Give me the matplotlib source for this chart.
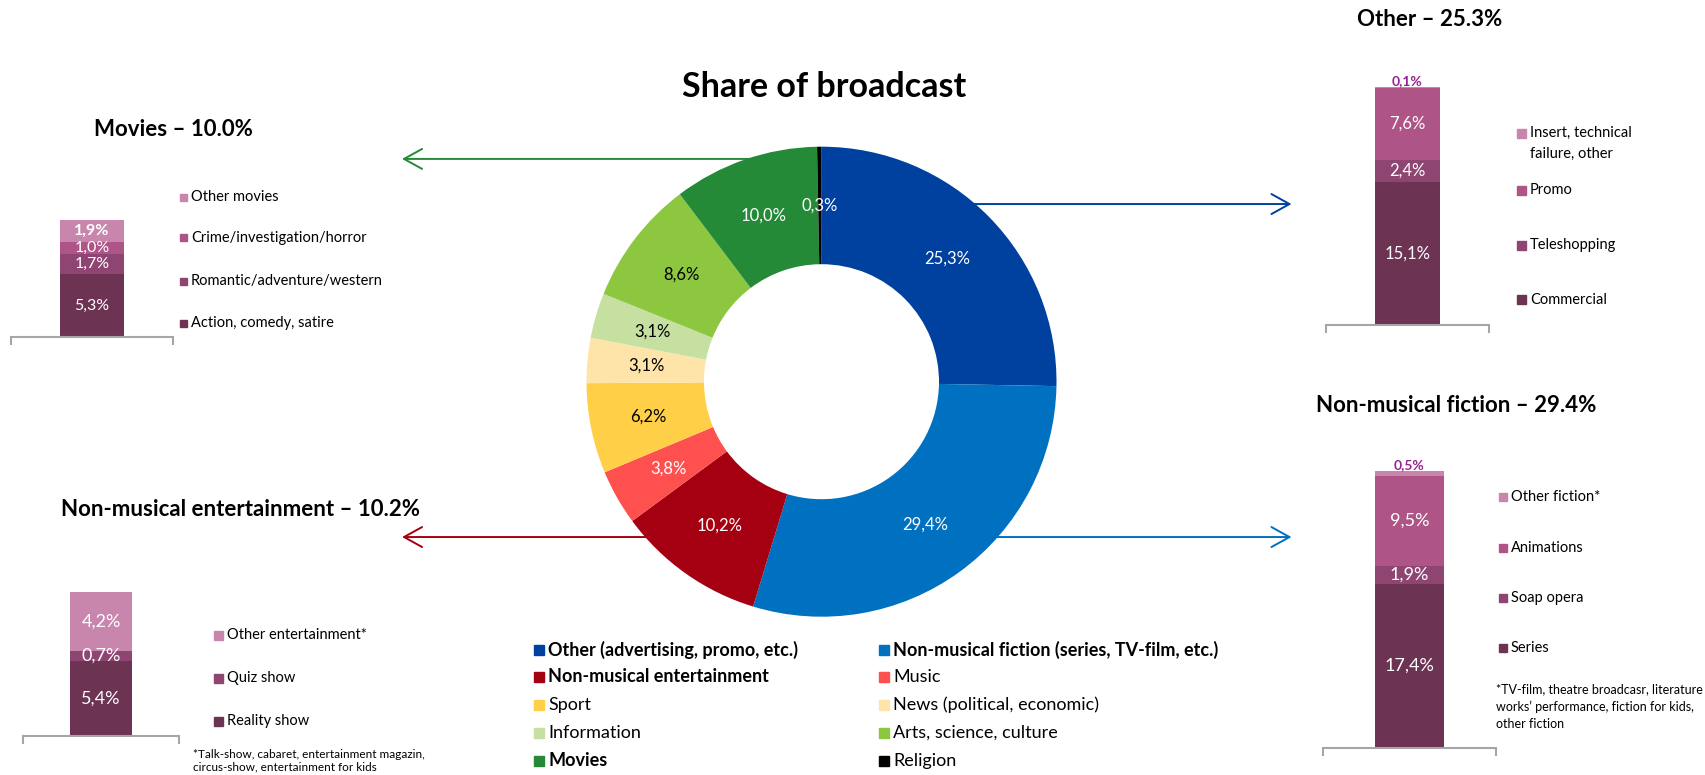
import matplotlib
matplotlib.use("Agg")
import matplotlib.pyplot as plt
from matplotlib.patches import Rectangle

plt.rcParams['font.family'] = ['Lato', 'DejaVu Sans']

W, H = 1705, 775

# main donut data
categories = ["Other (advertising, promo, etc.)", "Non-musical fiction (series, TV-film, etc.)",
              "Non-musical entertainment", "Music", "Sport", "News (political, economic)",
              "Information", "Arts, science, culture", "Movies", "Religion"]
shares = [25.3, 29.4, 10.2, 3.8, 6.2, 3.1, 3.1, 8.6, 10.0, 0.3]
colors = ["#00409f", "#0070c0", "#a50012", "#ff5050", "#ffd047", "#ffe4aa",
          "#c5e0a0", "#8dc63f", "#248a38", "#000000"]
bold_cats = ["Other (advertising, promo, etc.)", "Non-musical fiction (series, TV-film, etc.)",
             "Non-musical entertainment", "Movies"]
dark_text_cats = ["Sport", "News (political, economic)", "Information", "Arts, science, culture"]

# breakdowns (bottom -> top)
movies_labels = ["Action, comedy, satire", "Romantic/adventure/western",
                 "Crime/investigation/horror", "Other movies"]
movies_values = [5.3, 1.7, 1.0, 1.9]
ent_labels = ["Reality show", "Quiz show", "Other entertainment*"]
ent_values = [5.4, 0.7, 4.2]
other_labels = ["Commercial", "Teleshopping", "Promo", "Insert, technical\nfailure, other"]
other_values = [15.1, 2.4, 7.6, 0.1]
fiction_labels = ["Series", "Soap opera", "Animations", "Other fiction*"]
fiction_values = [17.4, 1.9, 9.5, 0.5]

purples = ["#6c3353", "#8f4572", "#ae5486", "#c986ad"]
tiny_color = "#962193"

fig = plt.figure(figsize=(W / 100, H / 100), dpi=100)


def P(x, y):
    return x / W, 1 - y / H


def box(left, top, right, bottom):
    return [left / W, 1 - bottom / H, (right - left) / W, (bottom - top) / H]


def fmt(v):
    return f"{v:.1f}%".replace('.', ',')


def key(x, y, color, label, size=10.5, sq=8, weight='normal', pitch=21):
    fig.patches.append(Rectangle(P(x, y + sq / 2), sq / W, sq / H, color=color,
                                 transform=fig.transFigure, figure=fig))
    # multi-line labels: one text per line, marker next to the first line
    for j, line in enumerate(label.split('\n')):
        fig.text(*P(x + sq + 4, y + j * pitch), line, fontsize=size, weight=weight,
                 va='center', ha='left')


# ---- donut ----
cx, cy, R = 821.5, 381.7, 235
ax = fig.add_axes(box(cx - R, cy - R, cx + R, cy + R))
wedges, texts, autotexts = ax.pie(shares, colors=colors, startangle=90, counterclock=False,
                                  radius=1, pctdistance=0.75, autopct=fmt,
                                  wedgeprops=dict(width=0.5, linewidth=0),
                                  textprops=dict(fontsize=12, color='white'))
for cat, t in zip(categories, autotexts):
    if cat in dark_text_cats:
        t.set_color('black')
ax.set_xlim(-1, 1)
ax.set_ylim(-1, 1)

# arrows to the breakdowns
arrows = [(0.948, -0.2, -1.785, colors[8]),
          (0.756, 0.3, 2.0, colors[0]),
          (-0.661, -0.3, -1.785, colors[2]),
          (-0.661, 0.3, 2.0, colors[1])]
for y, x0, x1, c in arrows:
    ann = ax.annotate("", xy=(x1, y), xytext=(x0, y), annotation_clip=False, zorder=0,
                      arrowprops=dict(arrowstyle='->, head_length=0.65, head_width=0.36',
                                      mutation_scale=20, color=c, lw=1.4,
                                      shrinkA=0, shrinkB=0))
    ann.arrow_patch.set_clip_on(False)

fig.text(*P(824, 87), "Share of broadcast", fontsize=24.5, weight='bold', ha='center', va='center')

# main legend, filled row by row
rows = [650, 677, 705, 733, 761]
for i, (cat, c) in enumerate(zip(categories, colors)):
    col, row = i % 2, i // 2
    x = 534 if col == 0 else 879
    key(x, rows[row], c, cat, size=13, sq=10,
        weight='bold' if cat in bold_cats else 'normal')


# ---- breakdown bars ----
def stacked(rect, values, cols, label_size=11, bold_top=False):
    left, top, right, bottom = rect
    a = fig.add_axes(box(left, top, right, bottom))
    total = sum(values)
    base = 0
    for i, (v, c) in enumerate(zip(values, cols)):
        a.bar(0, v, width=0.4, bottom=base, color=c, linewidth=0)
        last = i == len(values) - 1
        if v < 0.6 and last:
            a.text(0, base + v, fmt(v), ha='center', va='bottom', color=tiny_color,
                   fontsize=10, weight='bold')
        else:
            a.text(0, base + v / 2, fmt(v), ha='center', va='center', color='white',
                   fontsize=label_size, weight='bold' if (bold_top and last) else 'normal')
        base += v
    a.set_xlim(-0.5, 0.5)
    a.set_ylim(0, total)
    for s in ['top', 'left', 'right']:
        a.spines[s].set_visible(False)
    a.spines['bottom'].set_color('#a6a6a6')
    a.spines['bottom'].set_linewidth(1.5)
    a.set_xticks([-0.5, 0.5])
    a.set_xticklabels([])
    a.set_yticks([])
    a.tick_params(axis='x', length=6, width=1.5, color='#a6a6a6')
    return a


# Movies
fig.text(*P(173, 130), "Movies \u2013 10.0%", fontsize=16, weight='bold', ha='center', va='center')
stacked((11, 220, 173, 337), movies_values, purples, label_size=11.5, bold_top=True)
for lab, c, y in zip(movies_labels, purples, [323, 281, 238, 197]):
    key(180, y, c, lab, size=10.5, sq=7)

# Non-musical entertainment
ent_cols = [purples[0], purples[1], purples[3]]
fig.text(*P(240, 510), "Non-musical entertainment \u2013 10.2%", fontsize=16, weight='bold',
         ha='center', va='center')
stacked((23, 592, 179, 736), ent_values, ent_cols, label_size=13)
for lab, c, y in zip(ent_labels, ent_cols, [721, 678, 635]):
    key(214, y, c, lab, size=10.5, sq=9)
fig.text(*P(193, 749), "*Talk-show, cabaret, entertainment magazin,\ncircus-show, entertainment for kids",
         fontsize=8.5, ha='left', va='top', linespacing=1.2)

# Other
other_cols = [purples[0], purples[1], purples[2], purples[3]]
fig.text(*P(1430, 20), "Other \u2013 25.3%", fontsize=16, weight='bold', ha='center', va='center')
stacked((1326, 87, 1489, 325), other_values, other_cols, label_size=12)
for lab, c, y in zip(other_labels, other_cols, [300, 245, 190, 133]):
    key(1517, y, c, lab, size=10.5, sq=9)

# Non-musical fiction
fiction_cols = [purples[0], purples[1], purples[2], purples[3]]
fig.text(*P(1456, 405), "Non-musical fiction \u2013 29.4%", fontsize=16, weight='bold',
         ha='center', va='center')
stacked((1323, 471, 1496, 748), fiction_values, fiction_cols, label_size=13)
for lab, c, y in zip(fiction_labels, fiction_cols, [648, 598, 548, 497]):
    key(1499, y, c, lab, size=10.5, sq=8)
fig.text(*P(1496, 683), "*TV-film, theatre broadcasr, literature\nworks\u2019 performance, fiction for kids,\nother fiction",
         fontsize=9, ha='left', va='top', linespacing=1.5)

fig.savefig("out.png", dpi=100)
